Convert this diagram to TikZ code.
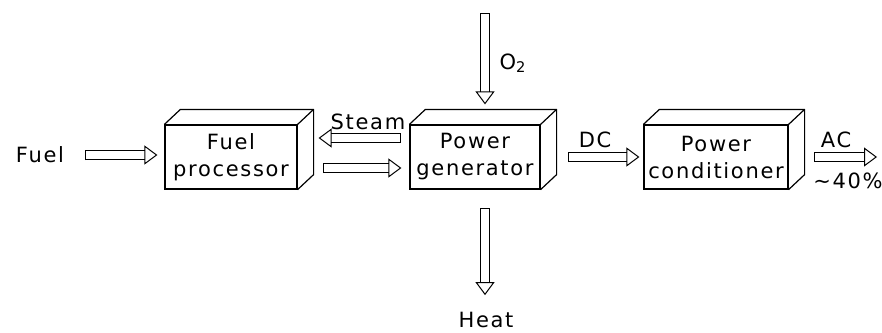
\documentclass[tikz,border=0pt]{standalone}
\usepackage{fontspec}
\setmainfont{DejaVu Sans}[LetterSpace=8]
\usetikzlibrary{arrows.meta}
\tikzset{
  unitbox/.style={draw,line width=0.6pt,align=center,inner sep=0pt,minimum height=32pt},
  unitdepth/.style={line width=0.6pt,line join=round},
  flowarrow/.style={double,double distance=4pt,line width=0.5pt,
    {Bar[width=5pt,line width=0.5pt]}-{Triangle[open,length=6.5pt,width=9.5pt,line width=0.5pt]}},
  every picture/.style={font=\fontsize{10.5}{13.5}\selectfont}
}

\begin{document}
\begin{tikzpicture}[x=0.5pt,y=-0.5pt]
  \useasboundingbox (0,0) rectangle (882,332);
  \node[unitbox,minimum width=66pt] (proc) at (231,157) {Fuel\\processor};
  \node[unitbox,minimum width=65pt] (gen) at (475,157) {Power\\generator};
  \node[unitbox,minimum width=72pt] (cond) at (716,157) {Power\\conditioner};
  \foreach \n in {proc,gen,cond}
    \draw[unitdepth] (\n.north west) -- ++(16,-15)
      -- ([shift={(16,-15)}]\n.north east) -- ([shift={(16,-15)}]\n.south east)
      -- (\n.south east) (\n.north east) -- ++(16,-15);
  \node (fuel) at (40,155) {Fuel};
  \node (steam) at (368,122) {Steam};
  \node (oxy) at (513,63) {O\textsubscript{2}};
  \node (heat) at (486,320) {Heat};
  \node (dc) at (595,140) {DC};
  \node (ac) at (836,140) {AC};
  \node (eff) at (848,181) {∼40\%};
  \coordinate (oxytop) at (485,13);
  \coordinate (acend) at (877,157);
  \draw[flowarrow,shorten <=7pt,shorten >=3.5pt] (fuel.east) -- (fuel.east -| proc.west);
  \draw[flowarrow,shorten <=4pt,shorten >=10.5pt] ([yshift=9.5pt]gen.west) -- ([yshift=9.5pt]proc.east);
  \draw[flowarrow,shorten <=12.5pt,shorten >=4pt] ([yshift=-5.5pt]proc.east) -- ([yshift=-5.5pt]gen.west);
  \draw[flowarrow,shorten >=10pt] (oxytop) -- (oxytop |- gen.north);
  \draw[flowarrow,shorten <=9pt,shorten >=5pt] (gen.south -| oxytop) -- (heat.north -| oxytop);
  \draw[flowarrow,shorten <=13.5pt,shorten >=2pt] (gen.east) -- (cond.west);
  \draw[flowarrow,shorten <=12.5pt] (cond.east) -- (acend);
\end{tikzpicture}
\end{document}
